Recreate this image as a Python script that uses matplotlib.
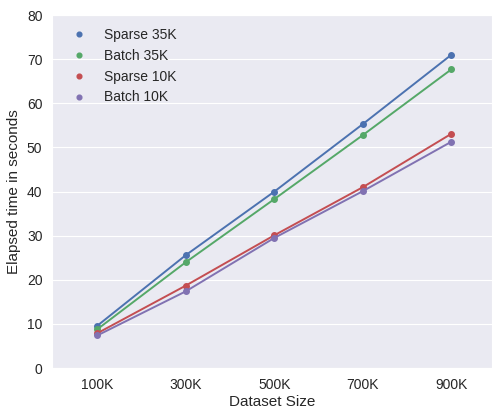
import matplotlib
matplotlib.use('Agg')
import matplotlib.pyplot as plt
import seaborn as sns

# dataset sizes and timings (seconds)
sizes = ['100K', '300K', '500K', '700K', '900K']
sparse_35k = [9.6, 25.6, 40.0, 55.3, 71.0]
batch_35k = [8.8, 24.0, 38.3, 52.8, 67.7]
sparse_10k = [7.9, 18.7, 30.1, 41.0, 53.1]
batch_10k = [7.4, 17.4, 29.5, 40.1, 51.3]

series = [('Sparse 35K', sparse_35k), ('Batch 35K', batch_35k),
          ('Sparse 10K', sparse_10k), ('Batch 10K', batch_10k)]
colors = ['#4C72B0', '#55A868', '#C44E52', '#8172B2']

sns.set_style('darkgrid')
plt.rcParams['font.family'] = ['Liberation Sans', 'DejaVu Sans']

fig, ax = plt.subplots(figsize=(4.92, 4.09), dpi=100)
fig.subplots_adjust(left=0.106, right=1.0, bottom=0.100, top=0.963)

xs = list(range(len(sizes)))
for (label, vals), c in zip(series, colors):
    ax.plot(xs, vals, color=c, lw=1.4)
    ax.plot(xs, vals, 'o', color=c, ms=4, label=label)

ax.set_xticks(xs)
ax.set_xticklabels(sizes)
ax.set_xlim(-0.51, 4.46)
ax.set_ylim(0, 80)
ax.xaxis.grid(False)
ax.tick_params(labelsize=10, colors='#262626')
ax.set_xlabel('Dataset Size', fontsize=11, labelpad=2)
ax.set_ylabel('Elapsed time in seconds', fontsize=11)
ax.legend(loc='upper left', frameon=False, numpoints=1, fontsize=10,
          markerscale=0.85)

fig.savefig('out.png', dpi=100)
